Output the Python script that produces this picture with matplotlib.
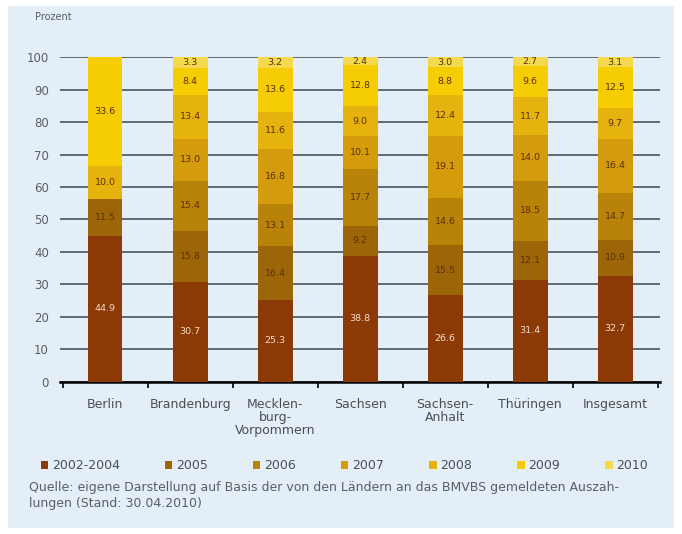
import numpy as np
import matplotlib.pyplot as plt

# Bewilligte Mittel nach Programmjahr, Anteile in Prozent
laender = ["Berlin", "Brandenburg", "Mecklen-\nburg-\nVorpommern", "Sachsen",
           "Sachsen-\nAnhalt", "Thüringen", "Insgesamt"]
jahre = ["2002-2004", "2005", "2006", "2007", "2008", "2009", "2010"]

anteil_2002_2004 = [44.9, 30.7, 25.3, 38.8, 26.6, 31.4, 32.7]
anteil_2005 = [11.5, 15.8, 16.4, 9.2, 15.5, 12.1, 10.9]
anteil_2006 = [0.0, 15.4, 13.1, 17.7, 14.6, 18.5, 14.7]
anteil_2007 = [0.0, 13.0, 16.8, 10.1, 19.1, 14.0, 16.4]
anteil_2008 = [10.0, 13.4, 11.6, 9.0, 12.4, 11.7, 9.7]
anteil_2009 = [33.6, 8.4, 13.6, 12.8, 8.8, 9.6, 12.5]
anteil_2010 = [0.0, 3.3, 3.2, 2.4, 3.0, 2.7, 3.1]

serien = [anteil_2002_2004, anteil_2005, anteil_2006, anteil_2007,
          anteil_2008, anteil_2009, anteil_2010]
farben = ["#8b3a05", "#9c6508", "#b98309", "#d49b0c", "#e6b30e", "#f6cc04", "#f4d84e"]

bg = "#e4eef7"
fig = plt.figure(figsize=(6.82, 5.34), dpi=100, facecolor="white")
fig.patches.append(plt.Rectangle((0.012, 0.012), 0.976, 0.976, transform=fig.transFigure,
                                 facecolor=bg, edgecolor="none", zorder=-10))
ax = fig.add_axes([0.088, 0.285, 0.88, 0.608])
ax.set_facecolor(bg)

x = np.arange(len(laender))
unten = np.zeros(len(laender))
for i, (werte, farbe, jahr) in enumerate(zip(serien, farben, jahre)):
    werte = np.array(werte)
    ax.bar(x, werte, 0.41, bottom=unten, color=farbe, label=jahr, zorder=3)
    for xi, w, b in zip(x, werte, unten):
        if w <= 0:
            continue
        tc = "#f6dcc4" if i == 0 else "#5a3200"
        ax.text(xi, b + w / 2, f"{w:.1f}", ha="center", va="center",
                fontsize=6.8, color=tc, zorder=4)
    unten += werte

ax.set_xlim(-0.53, 6.53)
ax.set_ylim(0, 100)
ax.set_yticks(np.arange(0, 101, 10))
ax.yaxis.grid(True, color="#56606c", linewidth=1.3, zorder=1)
ax.tick_params(axis="y", length=0, labelsize=8.5, labelcolor="#5a5f66", pad=8)
ax.set_xticks(x)
ax.set_xticklabels(laender, fontsize=9, color="#4a4f55", va="top", linespacing=1.0)
ax.set_xticks(np.arange(-0.5, 7, 1), minor=True)
ax.tick_params(axis="x", which="major", length=0, pad=12)
ax.tick_params(axis="x", which="minor", length=4, width=1.2, color="black")
for s in ["top", "right", "left"]:
    ax.spines[s].set_visible(False)
ax.spines["bottom"].set_linewidth(1.8)

fig.text(0.052, 0.968, "Prozent", fontsize=7, color="#5a5f66", va="center")

fig.legend(loc="center", bbox_to_anchor=(0.505, 0.128), ncol=7, frameon=False,
           fontsize=9, handlelength=0.6, handleheight=0.6, handletextpad=0.3,
           columnspacing=3.6, labelcolor="#4a4f55")

fig.text(0.042, 0.072, "Quelle: eigene Darstellung auf Basis der von den Ländern an das BMVBS "
         "gemeldeten Auszah-\nlungen (Stand: 30.04.2010)", fontsize=9, color="#5a5f66",
         va="center", linespacing=1.3)

fig.savefig("out.png", dpi=100, facecolor=fig.get_facecolor())
